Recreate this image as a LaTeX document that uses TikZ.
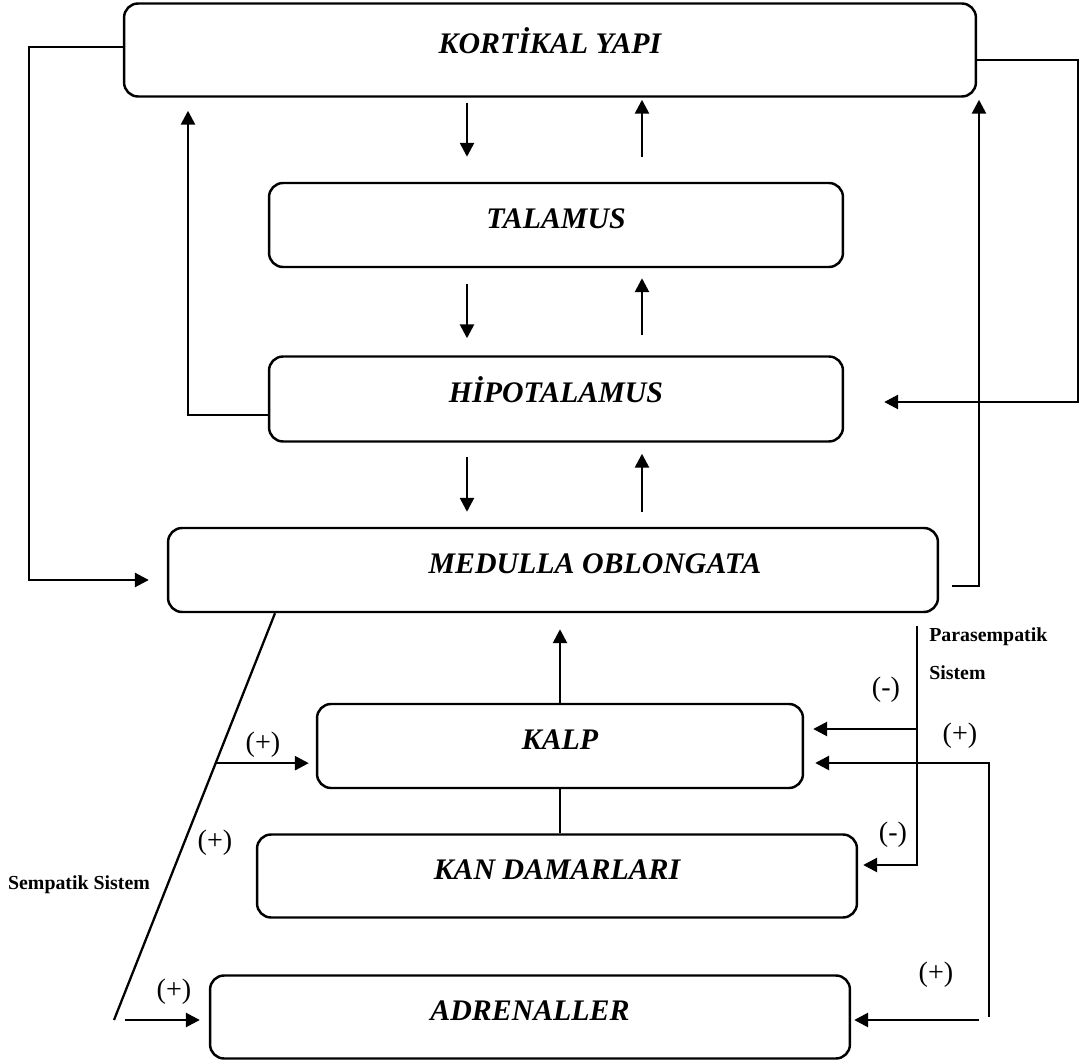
\documentclass[tikz,border=0pt]{standalone}
\usepackage{fontspec}
\setmainfont{Liberation Serif}
\usepackage{tikz}
\usetikzlibrary{arrows.meta, calc}

\begin{document}
\begin{tikzpicture}[x=0.02cm, y=-0.02cm,
    block/.style={rectangle, rounded corners=0.28cm, draw=black, line width=1.4pt,
                  text height=0.4cm, text depth=0.24cm, inner sep=0pt,
                  font=\fontsize{17}{20}\selectfont\bfseries\itshape},
    arr/.style={-{Triangle[length=0.28cm, width=0.28cm]}, line width=1.5pt},
    link/.style={line width=1.5pt},
    sign/.style={font=\fontsize{16}{18}\selectfont},
    sys/.style={font=\fontsize{11.3}{13}\selectfont\bfseries, anchor=west, inner sep=0pt}
]
\useasboundingbox (0,0) rectangle (1080,1064);

% boxes
\node[block, minimum width=17.04cm, minimum height=1.86cm] (kort) at (550,50) {KORTİKAL YAPI};
\node[block, minimum width=11.48cm, minimum height=1.68cm] (tal) at (556,225) {TALAMUS};
\node[block, minimum width=11.48cm, minimum height=1.7cm] (hipo) at (556,399) {HİPOTALAMUS};
\node[block, minimum width=15.4cm, minimum height=1.68cm] (med) at (553,570) {\hspace*{1.68cm}MEDULLA OBLONGATA};
\node[block, minimum width=9.72cm, minimum height=1.68cm] (kalp) at (560,746) {KALP};
\node[block, minimum width=12cm, minimum height=1.66cm] (kan) at (557,876) {KAN DAMARLARI};
\node[block, minimum width=12.8cm, minimum height=1.66cm] (adr) at (530,1017) {ADRENALLER};

% brain chain
\coordinate (dn) at (467,0);
\coordinate (up) at (642,0);
\draw[arr, shorten <=0.1cm, shorten >=0.5cm] (kort.south -| dn) -- (tal.north -| dn);
\draw[arr, shorten <=0.5cm, shorten >=0.04cm] (tal.north -| up) -- (kort.south -| up);
\draw[arr, shorten <=0.32cm, shorten >=0.34cm] (tal.south -| dn) -- (hipo.north -| dn);
\draw[arr, shorten <=0.4cm, shorten >=0.2cm] (hipo.north -| up) -- (tal.south -| up);
\draw[arr, shorten <=0.28cm, shorten >=0.3cm] (hipo.south -| dn) -- (med.north -| dn);
\draw[arr, shorten <=0.3cm, shorten >=0.22cm] (med.north -| up) -- (hipo.south -| up);

% loops
\coordinate (lx) at (29,0);
\coordinate (hx) at (188,0);
\coordinate (rx) at (1078,0);
\coordinate (mx) at (979,0);
\coordinate (kl) at ([yshift=0.06cm]kort.west);
\coordinate (ml) at ([yshift=-0.2cm]med.west);
\coordinate (hl) at ([yshift=-0.32cm]hipo.west);
\coordinate (kr) at ([yshift=-0.2cm]kort.east);
\coordinate (hr) at ([yshift=-0.06cm]hipo.east);
\coordinate (mr) at ([yshift=-0.32cm]med.east);
\draw[arr, shorten >=0.36cm] (kl) -- (kl -| lx) -- (ml -| lx) -- (ml);
\draw[arr, shorten >=0.26cm] (hl) -- (hl -| hx) -- (kort.south -| hx);
\draw[arr, shorten >=0.8cm] (kr) -- (kr -| rx) -- (hr -| rx) -- (hr);
\draw[arr, shorten <=0.26cm, shorten >=0.04cm] (mr) -- (mr -| mx) -- (kort.south -| mx);

% sempatik
\coordinate (dg) at (275,0);
\coordinate (stop) at (med.south -| dg);
\coordinate (symp) at (114,1020);
\draw[link, line width=1.3pt] (stop) -- (symp);
\coordinate (s1) at ($(stop)!0.3686!(symp)$);
\draw[arr, shorten >=0.14cm] (s1) -- (s1 -| kalp.west);
\draw[arr, shorten <=0.22cm, shorten >=0.18cm] (symp) -- (symp -| adr.west);

% kalp
\draw[arr, shorten >=0.32cm] (kalp.north) -- (med.south -| kalp.north);
\draw[link] (kalp.south) -- (kan.north -| kalp.south);

% parasempatik
\coordinate (para) at (917,626);
\coordinate (k1) at ([yshift=0.34cm]kalp.east);
\coordinate (v1) at ([yshift=0.22cm]kan.east);
\draw[arr, shorten >=0.1cm] (para) -- (para |- v1) -- (v1);
\draw[arr, shorten >=0.18cm] (k1 -| para) -- (k1);

% feedback
\coordinate (fb) at (989,1017);
\coordinate (k2) at ([yshift=-0.34cm]kalp.east);
\coordinate (a1) at ([yshift=-0.06cm]adr.east);
\draw[arr, shorten >=0.22cm] (fb) -- (fb |- k2) -- (k2);
\draw[arr, shorten <=0.2cm, shorten >=0.06cm] (a1 -| fb) -- (a1);

% labels
\node[sign] (p1) at (263,745) {(+)};
\node[sign] (p2) at (215,843) {(+)};
\node[sign] (p3) at (174,992) {(+)};
\node[sign] (p4) at (960,736) {(+)};
\node[sign] (p5) at (936,975) {(+)};
\node[sign] (m1) at (886,690) {(-)};
\node[sign] (m2) at (893,835) {(-)};
\node[sys, anchor=center] (sem) at (79,885) {Sempatik Sistem};
\node[sys] (par1) at (929,637) {Parasempatik};
\node[sys] (par2) at (929,673) {Sistem};
\end{tikzpicture}
\end{document}
